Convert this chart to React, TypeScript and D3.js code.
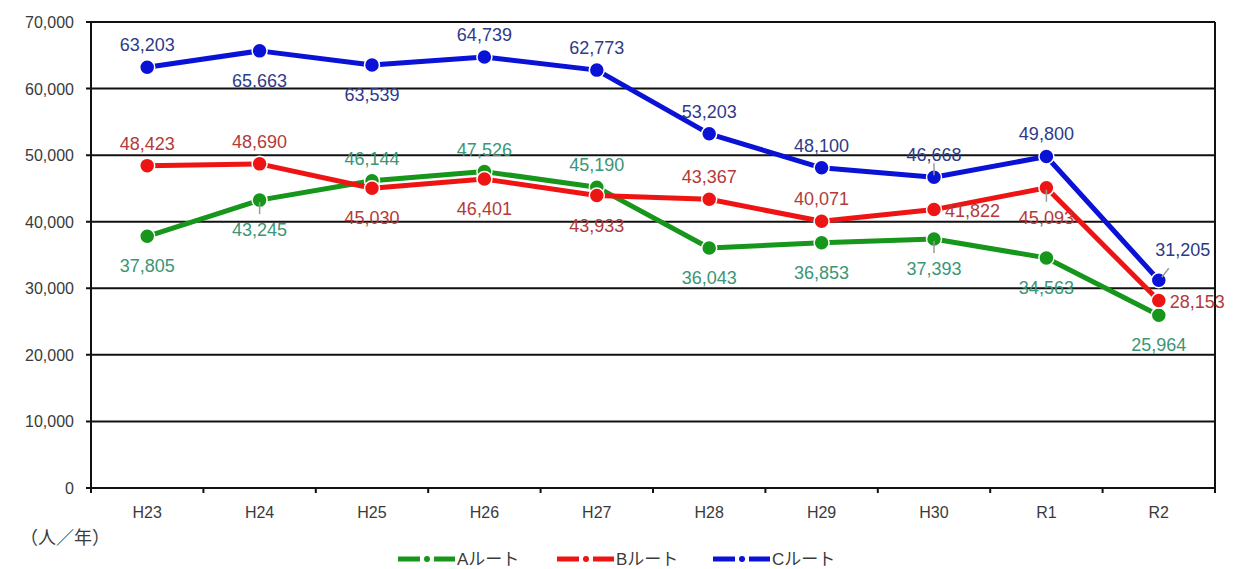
import React from "react";
import * as d3 from "d3";

// Annual ridership per route (people / year)
const years = ["H23", "H24", "H25", "H26", "H27", "H28", "H29", "H30", "R1", "R2"];
const routeA = [37805, 43245, 46144, 47526, 45190, 36043, 36853, 37393, 34563, 25964];
const routeB = [48423, 48690, 45030, 46401, 43933, 43367, 40071, 41822, 45093, 28153];
const routeC = [63203, 65663, 63539, 64739, 62773, 53203, 48100, 46668, 49800, 31205];
const yTicks = [0, 10000, 20000, 30000, 40000, 50000, 60000, 70000];
const seriesNames = ["Aルート", "Bルート", "Cルート"];

// Label placement for each point: a = above, b = below, r = right, ar = above-right
const placeA = ["b", "b", "a", "a", "a", "b", "b", "b", "b", "b"];
const placeB = ["a", "a", "b", "b", "b", "a", "a", "r", "b", "r"];
const placeC = ["a", "b", "b", "a", "a", "a", "a", "a", "a", "ar"];

const W = 1237;
const H = 569;
const left = 91;
const right = 1215;
const top = 22;
const bottom = 488;

const FONT = "'Liberation Sans', 'Noto Sans CJK JP', sans-serif";

const series = [
  { name: seriesNames[0], values: routeA, place: placeA, color: "#16961a", text: "#3a9676" },
  { name: seriesNames[1], values: routeB, place: placeB, color: "#ee1414", text: "#b43a3a" },
  { name: seriesNames[2], values: routeC, place: placeC, color: "#0a12d6", text: "#2f3a88" },
];

export default function App() {
  const x = d3.scaleBand<string>().domain(years).range([left, right]).padding(0);
  const cx = (c: string) => (x(c) as number) + x.bandwidth() / 2;
  const y = d3.scaleLinear().domain([0, 70000]).range([bottom, top]);
  const fmt = d3.format(",");
  const line = d3
    .line<number>()
    .x((_, i) => cx(years[i]))
    .y((v) => y(v));

  const labelPos = (p: string, px: number, py: number) => {
    if (p === "a") return { x: px, y: py - 16, anchor: "middle" };
    if (p === "b") return { x: px, y: py + 36, anchor: "middle" };
    if (p === "r") return { x: px + 11, y: py + 7, anchor: "start" };
    return { x: px + 24, y: py - 24, anchor: "middle" };
  };

  // short grey leader strokes joining a few labels to their markers
  const leaderOf = (p: string, px: number, py: number) => {
    if (p === "b") return [px, py + 2, px, py + 14];
    if (p === "a") return [px, py - 2, px, py - 14];
    return [px + 3, py - 3, px + 10, py - 12];
  };
  const leaders = [
    { s: 0, i: 1 },
    { s: 0, i: 7 },
    { s: 1, i: 8 },
    { s: 2, i: 7 },
    { s: 2, i: 9 },
  ];

  const legendX = [398, 557, 713];

  return (
    <svg width={W} height={H} style={{ position: "absolute", left: 0, top: 0, background: "#fff" }}>
      <rect x={0} y={0} width={W} height={H} fill="#fff" />
      {/* horizontal gridlines */}
      {yTicks.map((t) => (
        <g key={t}>
          <line x1={left - 5} x2={right} y1={y(t)} y2={y(t)} stroke="#111" strokeWidth={2} />
          <text
            x={74}
            y={y(t) + 6}
            textAnchor="end"
            fontFamily={FONT}
            fontSize={16}
            fill="#3a3a3a"
          >
            {fmt(t)}
          </text>
        </g>
      ))}
      {/* frame */}
      <line x1={left} x2={left} y1={top} y2={bottom + 5} stroke="#111" strokeWidth={2} />
      <line x1={right} x2={right} y1={top} y2={bottom + 5} stroke="#111" strokeWidth={2} />
      {/* category ticks between years */}
      {years.slice(1).map((c) => (
        <line
          key={c}
          x1={x(c) as number}
          x2={x(c) as number}
          y1={bottom}
          y2={bottom + 5}
          stroke="#111"
          strokeWidth={2}
        />
      ))}
      {years.map((c) => (
        <text
          key={c}
          x={cx(c)}
          y={518}
          textAnchor="middle"
          fontFamily={FONT}
          fontSize={16}
          fill="#3a3a3a"
        >
          {c}
        </text>
      ))}
      <text x={20} y={544} fontFamily={FONT} fontSize={18} fill="#3a3a3a">
        （人／年）
      </text>

      {/* series lines and markers */}
      {series.map((s) => (
        <g key={s.name}>
          <path d={line(s.values) as string} fill="none" stroke={s.color} strokeWidth={5} strokeLinejoin="round" />
          {s.values.map((v, i) => (
            <circle
              key={i}
              cx={cx(years[i])}
              cy={y(v)}
              r={7.5}
              fill={s.color}
              stroke="#fff"
              strokeWidth={1.5}
            />
          ))}
        </g>
      ))}

      {/* leaders */}
      {leaders.map(({ s, i }) => {
        const ser = series[s];
        const [x1, y1, x2, y2] = leaderOf(ser.place[i], cx(years[i]), y(ser.values[i]));
        return <line key={`${s}-${i}`} x1={x1} y1={y1} x2={x2} y2={y2} stroke="#9a9a9a" strokeWidth={1.5} />;
      })}

      {/* value labels */}
      {series.map((s) => (
        <g key={s.name + "-labels"}>
          {s.values.map((v, i) => {
            const p = labelPos(s.place[i], cx(years[i]), y(v));
            return (
              <text
                key={i}
                x={p.x}
                y={p.y}
                textAnchor={p.anchor as any}
                fontFamily={FONT}
                fontSize={18}
                fill={s.text}
              >
                {fmt(v)}
              </text>
            );
          })}
        </g>
      ))}

      {/* legend */}
      {series.map((s, i) => {
        const lx = legendX[i];
        const ly = 559;
        return (
          <g key={s.name + "-legend"}>
            <line x1={lx} x2={lx + 22} y1={ly} y2={ly} stroke={s.color} strokeWidth={5} />
            <circle cx={lx + 29} cy={ly} r={3} fill={s.color} />
            <line x1={lx + 36} x2={lx + 57} y1={ly} y2={ly} stroke={s.color} strokeWidth={5} />
            <text x={lx + 59} y={ly + 6} fontFamily={FONT} fontSize={17} fill="#3a3a3a">
              {s.name}
            </text>
          </g>
        );
      })}
    </svg>
  );
}
